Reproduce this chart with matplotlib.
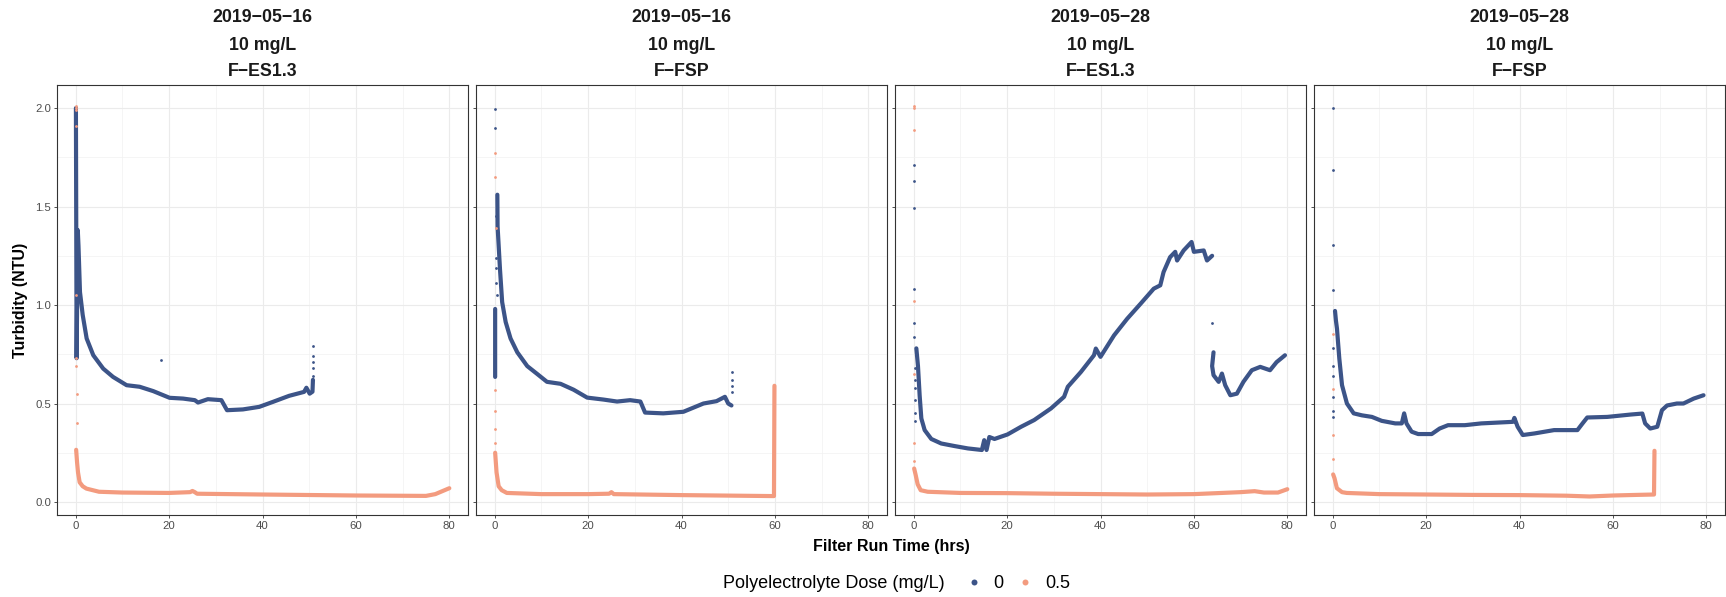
import matplotlib.pyplot as plt
from matplotlib.lines import Line2D
from matplotlib.ticker import MultipleLocator

plt.rcParams['font.family'] = ['Liberation Sans', 'DejaVu Sans']

nan = float('nan')

# facet labels
dates = ['2019−05−16', '2019−05−16', '2019−05−28', '2019−05−28']
coag_doses = ['10 mg/L', '10 mg/L', '10 mg/L', '10 mg/L']
filters = ['F−ES1.3', 'F−FSP', 'F−ES1.3', 'F−FSP']
pe_doses = ['0', '0.5']
colors = ['#3C5488', '#F39B7F']

x_ticks = [0, 20, 40, 60, 80]
y_ticks = [0.0, 0.5, 1.0, 1.5, 2.0]
y_tick_labels = ['0.0', '0.5', '1.0', '1.5', '2.0']

# panel 1: 2019-05-16, F-ES1.3
p1_d0_x = [0.05, 0.2, 0.45, 0.6, 0.92, 1.5, 2.35, 3.77, 5.9, 8.0, 10.9, 13.7, 16.6, 20.1, 23.0, 25.5, 26.2,
           28.3, 31.2, 32.4, 35.8, 39.3, 42.2, 45.7, 48.9, 49.4, 50.1, 50.7, 50.8]
p1_d0_y = [2.0, 0.73, 1.38, 1.3, 1.066, 0.95, 0.83, 0.745, 0.677, 0.635, 0.593, 0.585, 0.563, 0.529, 0.525, 0.517,
           0.505, 0.522, 0.517, 0.466, 0.47, 0.483, 0.508, 0.539, 0.559, 0.58, 0.55, 0.56, 0.62]
p1_d0_px = [50.8, 50.8, 50.8, 50.8, 50.8, 18.2]
p1_d0_py = [0.79, 0.74, 0.71, 0.68, 0.64, 0.72]
p1_d1_x = [0.1, 0.3, 0.5, 0.85, 1.5, 2.3, 5.0, 10.0, 20.0, 24.5, 25.0, 25.5, 26.0, 40.0, 60.0, 75.0, 77.0, 78.5, 80.0]
p1_d1_y = [0.265, 0.2, 0.15, 0.10, 0.08, 0.068, 0.052, 0.048, 0.046, 0.05, 0.056, 0.05, 0.042, 0.038, 0.033, 0.031,
           0.04, 0.055, 0.07]
p1_d1_px = [0.05, 0.1, 0.15, 0.1, 0.1, 0.1, 0.15, 0.2, 0.2]
p1_d1_py = [2.01, 2.0, 1.99, 1.91, 1.05, 0.73, 0.69, 0.55, 0.40]

# panel 2: 2019-05-16, F-FSP
p2_d0_x = [0.1, 0.1, nan, 0.57, 0.62, 1.14, 1.6, 2.35, 3.4, 4.84, 6.97, 9.1, 11.2, 14.1, 16.9, 19.8, 23.3, 26.2,
           29.0, 31.2, 32.2, 36.1, 40.4, 44.7, 47.5, 49.3, 50.0, 50.7]
p2_d0_y = [0.635, 0.98, nan, 1.56, 1.40, 1.18, 1.015, 0.914, 0.83, 0.76, 0.69, 0.65, 0.61, 0.60, 0.57, 0.53, 0.52,
           0.51, 0.517, 0.51, 0.454, 0.45, 0.458, 0.50, 0.512, 0.534, 0.50, 0.49]
p2_d0_px = [0.1, 0.1, 0.3, 0.3, 0.35, 0.35, 0.4, 50.8, 50.8, 50.8, 50.8]
p2_d0_py = [1.995, 1.90, 1.45, 1.24, 1.19, 1.11, 1.05, 0.66, 0.62, 0.59, 0.56]
p2_d1_x = [0.1, 0.4, 0.85, 1.5, 2.6, 10.0, 20.0, 24.5, 25.0, 25.5, 40.0, 59.8, 59.9]
p2_d1_y = [0.25, 0.15, 0.08, 0.06, 0.046, 0.04, 0.04, 0.042, 0.05, 0.04, 0.035, 0.03, 0.59]
p2_d1_px = [0.1, 0.1, 0.2, 0.15, 0.15, 0.15, 0.15]
p2_d1_py = [1.77, 1.65, 1.39, 0.57, 0.46, 0.37, 0.30]

# panel 3: 2019-05-28, F-ES1.3
p3_d0_x = [0.57, 0.92, 1.28, 1.64, 2.35, 3.77, 5.9, 8.75, 11.6, 14.6, 15.1, 15.6, 16.2, 17.3, 20.1, 23.0, 25.8,
           29.4, 32.2, 33.0, 35.8, 38.6, 39.0, 40.0, 42.9, 45.7, 48.6, 51.4, 52.8, 53.5, 54.9, 56.0, 56.4, 57.8,
           59.5, 60.0, 62.1, 62.8, 63.9, nan, 64.2, 63.9, 64.2, 65.3, 66.0, 66.7, 67.8, 69.2, 70.6, 72.4, 74.2,
           76.3, 77.7, 79.5]
p3_d0_y = [0.78, 0.69, 0.54, 0.424, 0.365, 0.32, 0.297, 0.284, 0.272, 0.264, 0.314, 0.264, 0.33, 0.32, 0.343,
           0.382, 0.416, 0.475, 0.534, 0.585, 0.66, 0.745, 0.779, 0.737, 0.846, 0.93, 1.007, 1.083, 1.10, 1.167,
           1.243, 1.27, 1.226, 1.277, 1.32, 1.27, 1.277, 1.226, 1.25, nan, 0.76, 0.69, 0.644, 0.61, 0.652, 0.593,
           0.542, 0.55, 0.61, 0.669, 0.686, 0.669, 0.71, 0.745]
p3_d0_px = [0.1, 0.1, 0.1, 0.1, 0.1, 0.1, 0.2, 0.2, 0.2, 0.2, 0.2, 0.2, 63.9]
p3_d0_py = [1.71, 1.63, 1.495, 1.083, 0.91, 0.84, 0.68, 0.62, 0.58, 0.52, 0.45, 0.41, 0.91]
p3_d1_x = [0.1, 0.4, 0.85, 1.5, 3.0, 10.0, 20.0, 30.0, 40.0, 50.0, 60.0, 70.0, 73.0, 75.0, 78.0, 80.0]
p3_d1_y = [0.17, 0.14, 0.09, 0.06, 0.052, 0.046, 0.045, 0.042, 0.04, 0.038, 0.04, 0.05, 0.055, 0.048, 0.048, 0.065]
p3_d1_px = [0.05, 0.1, 0.1, 0.1, 0.1, 0.1, 0.1]
p3_d1_py = [2.01, 2.0, 1.89, 1.02, 0.65, 0.30, 0.21]

# panel 4: 2019-05-28, F-FSP
p4_d0_x = [0.5, 0.7, 0.92, 1.42, 2.0, 3.05, 4.5, 6.25, 8.4, 10.5, 13.4, 14.8, 15.3, 15.8, 16.9, 18.3, 21.2, 22.9,
           24.7, 28.3, 31.8, 38.6, 38.9, 39.6, 40.7, 43.2, 47.4, 52.4, 53.5, 54.5, 58.8, 63.8, 66.3, 66.9, 68.0,
           69.5, 70.5, 71.6, 73.7, 75.1, 77.3, 79.4]
p4_d0_y = [0.97, 0.92, 0.88, 0.728, 0.593, 0.50, 0.45, 0.44, 0.432, 0.412, 0.399, 0.399, 0.45, 0.399, 0.357, 0.345,
           0.345, 0.373, 0.39, 0.39, 0.399, 0.407, 0.427, 0.382, 0.34, 0.348, 0.365, 0.365, 0.399, 0.429, 0.432,
           0.444, 0.449, 0.399, 0.373, 0.382, 0.466, 0.49, 0.50, 0.50, 0.525, 0.542]
p4_d0_px = [0.1, 0.1, 0.1, 0.1, 0.1, 0.1, 0.1, 0.1, 0.1, 0.1]
p4_d0_py = [2.0, 1.686, 1.307, 1.074, 0.78, 0.69, 0.64, 0.534, 0.46, 0.43]
p4_d1_x = [0.1, 0.4, 0.9, 2.0, 3.0, 10.0, 20.0, 30.0, 40.0, 50.0, 55.0, 60.0, 65.0, 68.8, 68.9]
p4_d1_y = [0.14, 0.12, 0.07, 0.05, 0.046, 0.04, 0.038, 0.036, 0.035, 0.032, 0.028, 0.033, 0.036, 0.038, 0.26]
p4_d1_px = [0.1, 0.1, 0.1, 0.1]
p4_d1_py = [0.855, 0.576, 0.34, 0.22]

panels = [
    [(p1_d0_x, p1_d0_y, p1_d0_px, p1_d0_py), (p1_d1_x, p1_d1_y, p1_d1_px, p1_d1_py)],
    [(p2_d0_x, p2_d0_y, p2_d0_px, p2_d0_py), (p2_d1_x, p2_d1_y, p2_d1_px, p2_d1_py)],
    [(p3_d0_x, p3_d0_y, p3_d0_px, p3_d0_py), (p3_d1_x, p3_d1_y, p3_d1_px, p3_d1_py)],
    [(p4_d0_x, p4_d0_y, p4_d0_px, p4_d0_py), (p4_d1_x, p4_d1_y, p4_d1_px, p4_d1_py)],
]

W, H = 1726, 597
fig = plt.figure(figsize=(W / 100, H / 100), dpi=100)

lefts = [57, 476, 895, 1314]
panel_w, panel_top, panel_bottom = 411, 85, 515

for i, left in enumerate(lefts):
    ax = fig.add_axes([left / W, 1 - panel_bottom / H, panel_w / W, (panel_bottom - panel_top) / H])
    ax.set_xlim(-4, 84)
    ax.set_ylim(-0.066, 2.117)
    ax.set_xticks(x_ticks)
    ax.set_yticks(y_ticks)
    ax.xaxis.set_minor_locator(MultipleLocator(10))
    ax.yaxis.set_minor_locator(MultipleLocator(0.25))
    ax.grid(which='major', color='#EBEBEB', lw=0.8)
    ax.grid(which='minor', color='#F2F2F2', lw=0.5)
    ax.set_axisbelow(True)
    ax.tick_params(which='minor', length=0)
    ax.tick_params(which='major', length=2.2, width=0.6, color='#333333',
                   labelsize=8.2, labelcolor='#4D4D4D', pad=2)
    if i == 0:
        ax.set_yticklabels(y_tick_labels)
    else:
        ax.tick_params(axis='y', labelleft=False)
    for s in ax.spines.values():
        s.set_color('#333333')
        s.set_linewidth(0.8)

    for (lx, ly, px, py), c in zip(panels[i], colors):
        ax.plot(lx, ly, color=c, lw=3.0, solid_capstyle='round', solid_joinstyle='round')
        ax.plot(px, py, 'o', color=c, markersize=2.0, markeredgewidth=0)

    cx = (left + panel_w / 2) / W
    for txt, ypx in zip([dates[i], coag_doses[i], filters[i]], [18, 45, 72]):
        fig.text(cx, 1 - ypx / H, txt, ha='center', va='center', fontsize=12.8,
                 fontweight='bold', color='#1A1A1A')

fig.text(20 / W, 1 - 300 / H, 'Turbidity (NTU)', rotation=90, ha='center', va='center',
         fontsize=11.5, fontweight='bold')
fig.text(891 / W, 1 - 546 / H, 'Filter Run Time (hrs)', ha='center', va='center',
         fontsize=11.5, fontweight='bold')

# legend at the bottom, title on the left
fig.text(723 / W, 1 - 584 / H, 'Polyelectrolyte Dose (mg/L)', ha='left', va='center', fontsize=13)
handles = [Line2D([], [], marker='o', ls='', color=c, markersize=4.3, markeredgewidth=0) for c in colors]
fig.legend(handles, pe_doses, loc='center left', bbox_to_anchor=(952 / W, 1 - 584 / H), ncol=2,
           frameon=False, fontsize=13, handlelength=0.6, handletextpad=0.8, columnspacing=0.9,
           borderpad=0.4)

fig.savefig('out.png', dpi=100)
